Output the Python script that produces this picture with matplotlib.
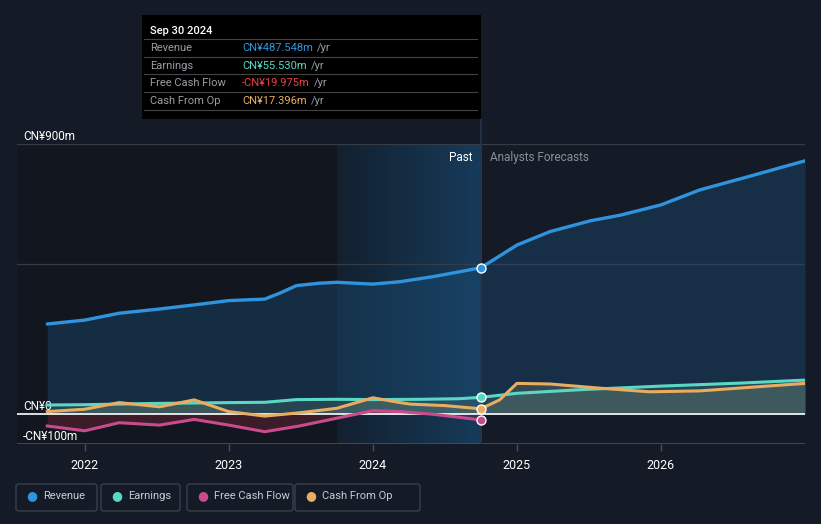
import numpy as np
import matplotlib.pyplot as plt
from matplotlib.patches import FancyBboxPatch, Rectangle
from matplotlib.colors import LinearSegmentedColormap

plt.rcParams['font.family'] = ['Roboto', 'DejaVu Sans']

# values in CN¥ millions, x in decimal years
rev_x = [2021.74, 2022.0, 2022.24, 2022.52, 2022.8, 2023.0, 2023.25, 2023.35, 2023.47,
         2023.63, 2023.75, 2024.0, 2024.19, 2024.42, 2024.6, 2024.75,
         2025.0, 2025.23, 2025.51, 2025.72, 2026.0, 2026.27, 2026.62, 2027.0]
rev_y = [300, 313, 336, 350, 366, 378, 383, 402, 428, 436, 439, 433, 441, 458, 474, 487.5,
         563, 608, 644, 663, 697, 747, 793, 844]

earn_x = [2021.74, 2022.0, 2022.45, 2023.0, 2023.25, 2023.47, 2023.75, 2024.0, 2024.33,
          2024.6, 2024.75, 2025.0, 2025.44, 2026.0, 2026.55, 2027.0]
earn_y = [30, 31, 35, 38, 39, 48, 49, 48, 49, 51, 55.5, 69, 81, 93, 103, 113]

fcf_x = [2021.74, 2022.0, 2022.24, 2022.52, 2022.76, 2023.0, 2023.25, 2023.49, 2023.75,
         2024.0, 2024.19, 2024.42, 2024.6, 2024.75]
fcf_y = [-40, -56, -29, -37, -18, -37, -59, -40, -14, 11, 8, -1, -11, -20]

cfo_x = [2021.74, 2022.0, 2022.24, 2022.52, 2022.76, 2023.0, 2023.25, 2023.49, 2023.75,
         2024.0, 2024.19, 2024.26, 2024.5, 2024.75, 2024.88, 2025.0, 2025.23, 2025.58,
         2025.92, 2026.27, 2026.62, 2027.0]
cfo_y = [8, 16, 38, 24, 47, 8, -7, 4, 19, 54, 38, 33, 28, 17.4, 47, 102, 100, 86, 74, 77,
         89, 102]

year_ticks = [2022, 2023, 2024, 2025, 2026]

BG = '#151b26'
C_REV = '#2f93de'
C_EARN = '#5ad8c3'
C_FCF = '#c84b8e'
C_CFO = '#e8ad61'

fig = plt.figure(figsize=(8.21, 5.24), dpi=100)
fig.patch.set_facecolor(BG)
W, H = 821, 524
ax = fig.add_axes([17 / W, (H - 444) / H, (805 - 17) / W, 300 / H])
ax.set_facecolor(BG)

# past shading
ax.axvspan(2021.53, 2023.75, color='#10141b', alpha=0.55, lw=0, zorder=0)
band = LinearSegmentedColormap.from_list('band', ['#13202f', '#163b5a'])
ax.imshow(np.linspace(0, 1, 64).reshape(1, -1), cmap=band, aspect='auto',
          extent=[2023.75, 2024.75, -100, 900], zorder=0.5, interpolation='bilinear')
ax.set_xlim(2021.53, 2027.0)
ax.set_ylim(-100, 900)

# grid
for yv in [900, 500]:
    ax.axhline(yv, color='#363c46', lw=0.9, zorder=1)
ax.axhline(0, color='white', lw=1.2, zorder=4)
ax.axhline(-100, color='#4a505a', lw=1.2, zorder=1)

# fills
ax.fill_between(rev_x, rev_y, 0, color='#1a4c74', alpha=0.42, lw=0, zorder=2)
ax.fill_between(cfo_x, cfo_y, 0, color='#6b7a6a', alpha=0.35, lw=0, zorder=2)
ax.fill_between(earn_x, earn_y, 0, color='#5a8a80', alpha=0.25, lw=0, zorder=2)
ax.fill_between(fcf_x, fcf_y, 0, color='#7a2438', alpha=0.4, lw=0, zorder=2)

ax.plot(rev_x, rev_y, color=C_REV, lw=2.4, zorder=5, solid_capstyle='round')
ax.plot(earn_x, earn_y, color=C_EARN, lw=2.2, zorder=5)
ax.plot(cfo_x, cfo_y, color=C_CFO, lw=2.2, zorder=6)
ax.plot(fcf_x, fcf_y, color=C_FCF, lw=2.2, zorder=5)

ax.axvline(2024.75, color='#24364a', lw=1.2, zorder=3)

for xs, ys, c in [(rev_x, rev_y, C_REV), (earn_x, earn_y, C_EARN),
                  (cfo_x, cfo_y, C_CFO), (fcf_x, fcf_y, C_FCF)]:
    i = xs.index(2024.75)
    ax.scatter([xs[i]], [ys[i]], s=42, color=c, edgecolor='white', lw=1.0, zorder=8)

for s in ax.spines.values():
    s.set_visible(False)
ax.set_yticks([])
ax.set_xticks(year_ticks)
ax.set_xticklabels([str(y) for y in year_ticks])
ax.tick_params(axis='x', colors='#4a505a', length=5, width=1, pad=6,
               labelcolor='white', labelsize=9)

ax.text(2021.57, 915, 'CN¥900m', color='white', fontsize=8.5)
ax.text(2021.57, 15, 'CN¥0', color='white', fontsize=8.5)
ax.text(2021.57, -85, '-CN¥100m', color='white', fontsize=8.5)
ax.text(2024.69, 855, 'Past', color='white', fontsize=8.5, ha='right', va='center')
ax.text(2024.81, 855, 'Analysts Forecasts', color='#8a8f96', fontsize=8.5, va='center')

# tooltip
fig.patches.append(Rectangle((142 / W, 1 - 119 / H), (481 - 142) / W, (119 - 15) / H,
                             transform=fig.transFigure, facecolor='black', edgecolor='none',
                             zorder=10))
fig.add_artist(plt.Line2D([481 / W, 481 / W], [1 - 119 / H, 1 - 144 / H], color='#24364a',
                          lw=1.2))
fig.text(150 / W, 1 - 31 / H, 'Sep 30 2024', color='white', fontsize=8, fontweight='medium',
         va='center', zorder=11)
rows = [('Revenue', 'CN¥487.548m', C_REV), ('Earnings', 'CN¥55.530m', C_EARN),
        ('Free Cash Flow', '-CN¥19.975m', '#e8414a'), ('Cash From Op', 'CN¥17.396m', C_CFO)]
for k, (lab, val, c) in enumerate(rows):
    yy = 48 + k * 17.7
    fig.add_artist(plt.Line2D([144 / W, 477 / W], [1 - (yy - 9) / H] * 2,
                              color='#444', lw=0.8, zorder=11))
    fig.text(150 / W, 1 - yy / H, lab, color='#9a9ea4', fontsize=8, va='center', zorder=11)
    t = fig.text(242 / W, 1 - yy / H, val, color=c, fontsize=8, va='center', zorder=11)
    fig.add_artist(plt.Annotation('/yr', xy=(1, 0.5), xycoords=t, xytext=(3, 0),
                                  textcoords='offset points', color='#9a9ea4', fontsize=8,
                                  va='center', zorder=11))
fig.add_artist(plt.Line2D([144 / W, 477 / W], [1 - 110 / H] * 2, color='#444',
                          lw=0.8, zorder=11))

# legend boxes
legend = [('Revenue', C_REV, 16, 97), ('Earnings', C_EARN, 101, 180),
          ('Free Cash Flow', C_FCF, 187, 293), ('Cash From Op', C_CFO, 295, 420)]
for lab, c, x0, x1 in legend:
    fig.patches.append(FancyBboxPatch((x0 / W, 1 - 511 / H), (x1 - x0) / W, 27 / H,
                                      boxstyle='round,pad=0,rounding_size=0.004',
                                      transform=fig.transFigure, facecolor=BG,
                                      edgecolor='#3a404a', lw=1))
    fig.text((x0 + 16) / W, 1 - 496 / H, '●', color=c, fontsize=9, va='center', ha='center',
             family='DejaVu Sans')
    fig.text((x0 + 27) / W, 1 - 496 / H, lab, color='#c8ccd2', fontsize=8, va='center')

fig.savefig('out.png', dpi=100, facecolor=BG)
